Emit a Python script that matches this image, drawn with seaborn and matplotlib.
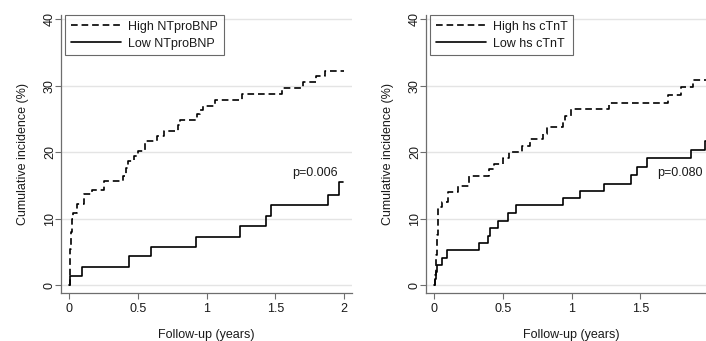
import matplotlib
matplotlib.use("Agg")
import matplotlib.pyplot as plt
import seaborn as sns
import pandas as pd

# ---- data ----
# Left panel: NTproBNP
bnp_high_t = [0, 0.003, 0.008, 0.013, 0.02, 0.03, 0.055, 0.107, 0.163, 0.25, 0.39, 0.41, 0.43,
              0.47, 0.50, 0.55, 0.64, 0.69, 0.79, 0.81, 0.93, 0.95, 0.975, 1.06, 1.255, 1.547,
              1.705, 1.80, 1.862, 2.0]
bnp_high_v = [0, 2.5, 5.5, 8.0, 10.0, 10.9, 12.3, 13.7, 14.4, 15.7, 16.5, 17.6, 18.7,
              19.5, 20.2, 21.7, 22.4, 23.2, 24.1, 24.8, 25.8, 26.3, 27.0, 27.9, 28.7, 29.6,
              30.5, 31.5, 32.3, 32.3]
bnp_low_t = [0, 0.003, 0.095, 0.437, 0.595, 0.923, 1.243, 1.433, 1.469, 1.887, 1.967, 1.996]
bnp_low_v = [0, 1.4, 2.8, 4.36, 5.81, 7.3, 8.9, 10.45, 12.0, 13.6, 15.5, 15.5]

# Right panel: hs cTnT
tnt_high_t = [0, 0.003, 0.01, 0.018, 0.025, 0.03, 0.058, 0.102, 0.175, 0.255, 0.40, 0.434,
              0.50, 0.546, 0.636, 0.697, 0.79, 0.818, 0.94, 0.955, 0.995, 1.27, 1.70, 1.80,
              1.885, 2.0]
tnt_high_v = [0, 1.5, 4.5, 7.5, 9.8, 11.7, 12.5, 14.1, 14.9, 16.5, 17.5, 18.3,
              19.2, 20.1, 21.0, 22.0, 22.8, 23.8, 24.6, 25.5, 26.5, 27.4, 28.6, 29.8,
              30.8, 30.8]
tnt_low_t = [0, 0.003, 0.01, 0.02, 0.058, 0.095, 0.328, 0.388, 0.405, 0.466, 0.534, 0.592,
             0.94, 1.065, 1.237, 1.432, 1.473, 1.546, 1.873, 1.97, 2.0]
tnt_low_v = [0, 0.95, 1.95, 3.06, 4.16, 5.26, 6.37, 7.47, 8.57, 9.67, 10.8, 12.0,
             13.1, 14.2, 15.3, 16.6, 17.8, 19.1, 20.35, 21.75, 21.75]

panels = [
    ("High NTproBNP", "Low NTproBNP", bnp_high_t, bnp_high_v, bnp_low_t, bnp_low_v, "p=0.006"),
    ("High hs cTnT", "Low hs cTnT", tnt_high_t, tnt_high_v, tnt_low_t, tnt_low_v, "p=0.080"),
]
x_ticks = [0, 0.5, 1, 1.5, 2]
x_tick_labels = ["0", "0.5", "1", "1.5", "2"]
y_ticks = [0, 10, 20, 30, 40]
x_label = "Follow-up (years)"
y_label = "Cumulative incidence (%)"

sns.set_theme(style="white")
plt.rcParams["font.family"] = ["Liberation Sans", "DejaVu Sans"]
plt.rcParams["font.size"] = 9
plt.rcParams["lines.scale_dashes"] = False

fig = plt.figure(figsize=(7.06, 3.41), dpi=100)
W, H = 706, 341
ax_pos = [(61, 15, 291, 278), (426, 15, 291, 278)]
txt_color = "#1a1a1a"

for (hl, ll, ht, hv, lt, lv, ptxt), (x0, y0, w, h) in zip(panels, ax_pos):
    ax = fig.add_axes([x0 / W, 1 - (y0 + h) / H, w / W, h / H])
    df_h = pd.DataFrame({"t": ht, "v": hv})
    df_l = pd.DataFrame({"t": lt, "v": lv})
    sns.lineplot(data=df_h, x="t", y="v", ax=ax, drawstyle="steps-post", color="black",
                 linewidth=1.2, linestyle=(0, (4.8, 2.8)), estimator=None, label=hl)
    sns.lineplot(data=df_l, x="t", y="v", ax=ax, drawstyle="steps-post", color="black",
                 linewidth=1.2, estimator=None, label=ll)
    ax.set_xlim(-0.06, 2.059)
    ax.set_ylim(-1.16, 40.65)
    ax.set_xticks(x_ticks)
    ax.set_xticklabels(x_tick_labels)
    ax.set_yticks(y_ticks)
    ax.set_yticklabels([str(v) for v in y_ticks], rotation=90, va="center")
    ax.grid(axis="y", color="#e4e4e4", linewidth=1.0)
    ax.set_axisbelow(True)
    for s in ["top", "right"]:
        ax.spines[s].set_visible(False)
    for s in ["left", "bottom"]:
        ax.spines[s].set_color("#6e6e6e")
        ax.spines[s].set_linewidth(0.9)
    ax.tick_params(axis="both", which="major", direction="out", length=4.5, width=0.8,
                   color="#6e6e6e", labelcolor=txt_color, labelsize=9,
                   bottom=True, left=True)
    ax.tick_params(axis="x", pad=3)
    ax.tick_params(axis="y", pad=-0.8)
    ax.set_xlabel(x_label, fontsize=9, color=txt_color, labelpad=10)
    ax.set_ylabel(y_label, fontsize=9, color=txt_color, labelpad=11)
    ax.text(1.79, 16.9, ptxt, ha="center", va="center", fontsize=9, color=txt_color)
    leg = ax.legend(loc="upper left", bbox_to_anchor=(0.0135, 1.0), frameon=True,
                    fancybox=False, edgecolor="#444444", fontsize=9, handlelength=4.0,
                    handletextpad=0.6, borderpad=0.45, labelspacing=0.4,
                    borderaxespad=0.0)
    leg.get_frame().set_linewidth(0.8)
    for t in leg.get_texts():
        t.set_color(txt_color)

fig.savefig("out.png", dpi=100)
